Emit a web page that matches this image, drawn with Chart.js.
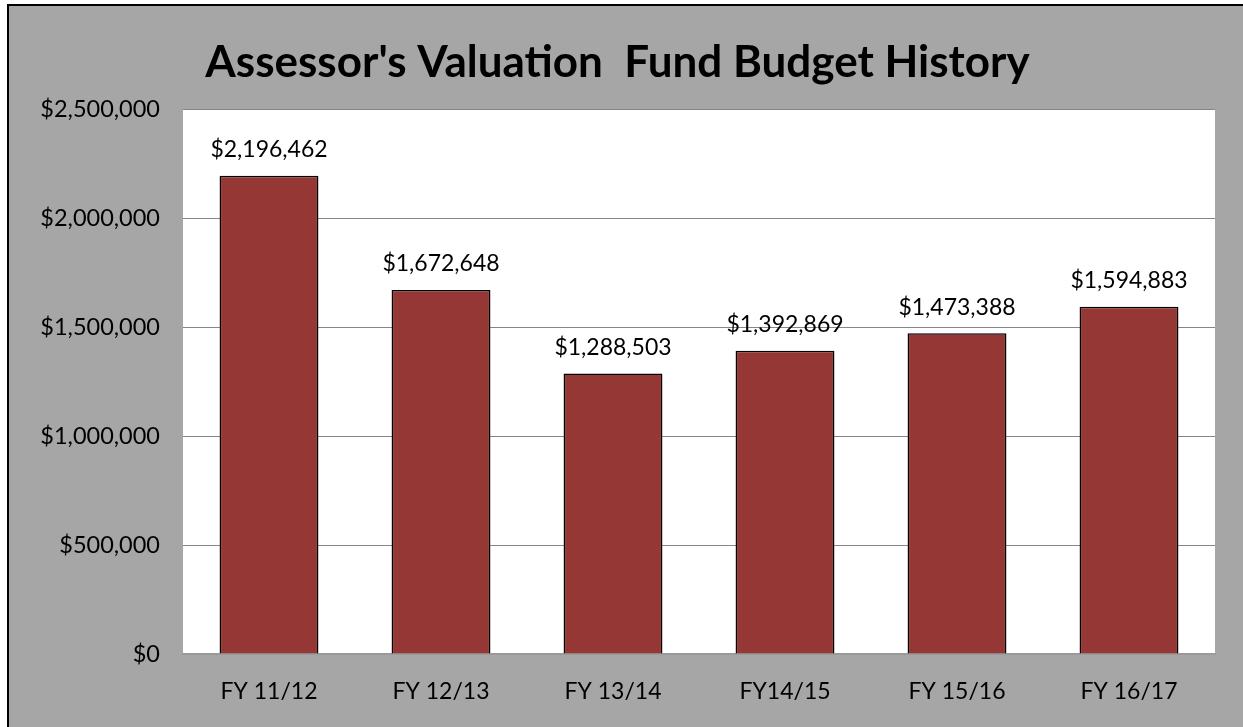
<!DOCTYPE html>
<html>
<head>
<meta charset="utf-8">
<script src="https://cdn.jsdelivr.net/npm/chart.js@4/dist/chart.umd.min.js"></script>
<style>
  html, body { margin: 0; padding: 0; background: #fff; }
  #wrap { width: 1243px; height: 727px; position: relative; }
</style>
</head>
<body>
<div id="wrap"><canvas id="chart" width="1243" height="727"></canvas></div>
<script>
  const categories = ['FY 11/12', 'FY 12/13', 'FY 13/14', 'FY14/15', 'FY 15/16', 'FY 16/17'];
  const budgetValues = [2196462, 1672648, 1288503, 1392869, 1473388, 1594883];
  const yTicks = [0, 500000, 1000000, 1500000, 2000000, 2500000];
  const titleText = "Assessor's Valuation  Fund Budget History";

  const FONT = 'Lato, "Open Sans", sans-serif';
  const GREY = '#a6a6a6';

  const money = (v) => '$' + Number(v).toLocaleString('en-US');

  // grey frame, white plot area, black border on left/top edge
  const framePlugin = {
    id: 'frame',
    beforeDraw(chart) {
      const { ctx, chartArea: a, width, height } = chart;
      ctx.save();
      ctx.fillStyle = GREY;
      ctx.fillRect(0, 0, width, height);
      ctx.fillStyle = '#fff';
      ctx.fillRect(0, 0, 7, height);
      ctx.fillRect(0, 0, width, 4);
      ctx.fillStyle = '#000';
      ctx.fillRect(7, 4, 2, height - 4);
      ctx.fillRect(7, 4, width - 7, 2);
      ctx.fillStyle = '#fff';
      ctx.fillRect(a.left, a.top, a.right - a.left, a.bottom - a.top);
      ctx.restore();
    }
  };

  // value labels above each bar
  const valueLabels = {
    id: 'valueLabels',
    afterDatasetsDraw(chart) {
      const { ctx } = chart;
      const meta = chart.getDatasetMeta(0);
      ctx.save();
      ctx.font = '23px ' + FONT;
      ctx.fillStyle = '#000';
      ctx.textAlign = 'center';
      ctx.textBaseline = 'middle';
      meta.data.forEach((bar, i) => {
        ctx.fillText(money(budgetValues[i]), bar.x, bar.y - 26);
      });
      ctx.restore();
    }
  };

  new Chart(document.getElementById('chart').getContext('2d'), {
    type: 'bar',
    data: {
      labels: categories,
      datasets: [{
        data: budgetValues,
        backgroundColor: '#953735',
        borderColor: '#000',
        borderWidth: 1.5,
        borderSkipped: 'bottom',
        barPercentage: 0.575,
        categoryPercentage: 1
      }]
    },
    options: {
      responsive: false,
      animation: false,
      layout: { padding: { left: 20, right: 28, top: 0, bottom: 0 } },
      scales: {
        x: {
          grid: { display: false, drawTicks: false },
          border: { display: true, color: '#9a9a9a', width: 2 },
          ticks: { color: '#000', font: { family: FONT, size: 23 }, padding: 24 },
          afterFit: (s) => { s.height = 73; }
        },
        y: {
          min: 0,
          max: 2500000,
          afterBuildTicks: (s) => { s.ticks = yTicks.map(v => ({ value: v })); },
          grid: { color: '#868686', lineWidth: 1, drawTicks: false },
          border: { display: false },
          ticks: {
            color: '#000',
            font: { family: FONT, size: 23.5 },
            padding: 23,
            callback: (v) => money(v)
          },
          afterFit: (s) => { s.width = 163; }
        }
      },
      plugins: {
        legend: { display: false },
        tooltip: { enabled: false },
        title: {
          display: true,
          text: titleText,
          color: '#000',
          font: { family: FONT, size: 44, weight: 'bold' },
          padding: { top: 36, bottom: 21 }
        }
      }
    },
    plugins: [framePlugin, valueLabels]
  });
</script>
</body>
</html>
